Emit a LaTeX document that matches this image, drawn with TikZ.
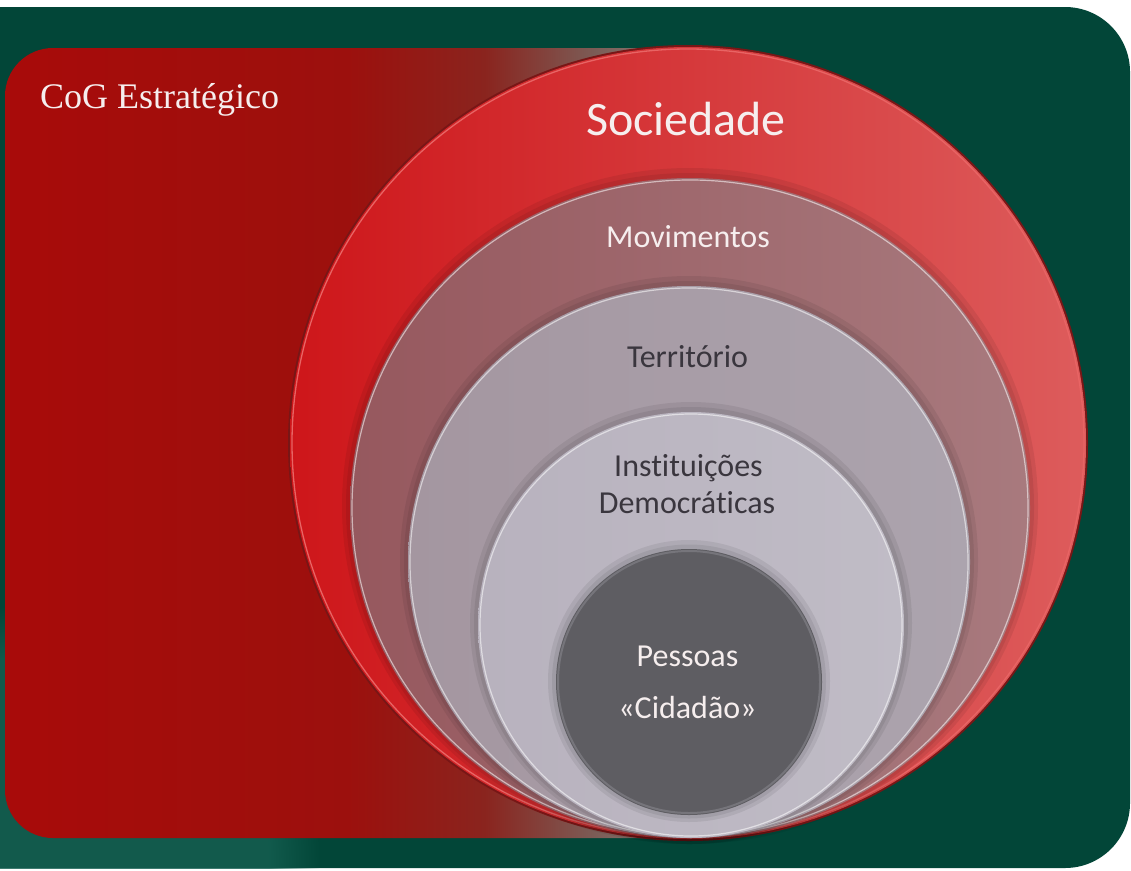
\documentclass[tikz,border=0pt]{standalone}
\usepackage{fontspec}
\setmainfont[Ligatures={NoCommon}]{Carlito}
\newfontfamily\cogfont{Liberation Serif}
\usetikzlibrary{shapes.geometric,fadings}
\definecolor{bggreen}{RGB}{2,70,56}
\definecolor{bgteal}{RGB}{22,96,82}
\definecolor{rA}{RGB}{168,11,10}
\definecolor{rB}{RGB}{156,16,13}
\definecolor{rC}{RGB}{138,36,30}
\definecolor{rD}{RGB}{124,92,86}
\definecolor{rE}{RGB}{136,134,127}
\definecolor{socL}{RGB}{206,22,26}
\definecolor{socR}{RGB}{221,92,92}
\definecolor{socRim}{RGB}{232,100,100}
\definecolor{socOut}{RGB}{120,22,22}
\definecolor{movL}{RGB}{150,88,94}
\definecolor{movR}{RGB}{168,122,126}
\definecolor{terL}{RGB}{164,150,160}
\definecolor{terR}{RGB}{172,164,174}
\definecolor{insL}{RGB}{184,178,190}
\definecolor{insR}{RGB}{192,188,198}
\definecolor{pesF}{RGB}{94,93,98}
\definecolor{pesRim}{RGB}{118,117,123}
\definecolor{darktxt}{RGB}{58,54,62}
\definecolor{lighttxt}{RGB}{246,238,238}
\pgfdeclarehorizontalshading{redfade}{100bp}{color(0bp)=(rA); color(25bp)=(rA); color(50bp)=(rB); color(60bp)=(rC); color(68bp)=(rD); color(75bp)=(rE); color(100bp)=(rE)}
\tikzset{
  rimline/.style={draw=white, draw opacity=0.55, line width=1.2pt},
  softshadow/.style={fill=black, fill opacity=0.07},
  lbl/.style={inner sep=0pt, anchor=base, font=\fontsize{32}{38}\selectfont},
}
\begin{document}
\begin{tikzpicture}[x=1pt,y=-1pt]
\useasboundingbox (0,0) rectangle (1131,870);
% green panel
\fill[bggreen] (-5,7) -- (1065,7) arc[start angle=90,end angle=0,radius=65pt] -- (1130,803) arc[start angle=0,end angle=-90,radius=65pt] -- (-5,868) -- cycle;
\begin{scope}
\clip (-5,7) rectangle (1130,868);
\fill[bgteal, path fading=circle with fuzzy edge 20 percent, fill opacity=0.8] (60,860) circle[radius=260pt];
\end{scope}
% red panel with fade
\shade[shading=redfade] (690,48) -- (53,48) arc[start angle=90,end angle=180,radius=48pt] -- (5,790) arc[start angle=180,end angle=270,radius=48pt] -- (690,838) -- cycle;
% Sociedade
\fill[socOut] (688,443) ellipse[x radius=400pt, y radius=398pt];
\shade[left color=socL, right color=socR] (688,443) ellipse[x radius=398pt, y radius=396pt];
\draw[socRim, line width=1.3pt] (688,443) ellipse[x radius=396pt, y radius=394pt];
% Movimentos
\fill[softshadow] (690,506) ellipse[x radius=348pt, y radius=338pt];
\fill[softshadow] (690,507) ellipse[x radius=344pt, y radius=334pt];
\shade[left color=movL, right color=movR] (690,508) ellipse[x radius=340pt, y radius=330pt];
\draw[rimline] (690,508) ellipse[x radius=338pt, y radius=328pt];
% Territorio
\fill[softshadow] (689,560) ellipse[x radius=289pt, y radius=284pt];
\fill[softshadow] (689,561) ellipse[x radius=285pt, y radius=280pt];
\shade[left color=terL, right color=terR] (689,562) ellipse[x radius=281pt, y radius=276pt];
\draw[rimline] (689,562) ellipse[x radius=279pt, y radius=274pt];
% Instituicoes
\fill[softshadow] (691,623) ellipse[x radius=221pt, y radius=221pt];
\fill[softshadow] (691,624) ellipse[x radius=217pt, y radius=217pt];
\shade[left color=insL, right color=insR] (691,625) ellipse[x radius=213pt, y radius=213pt];
\draw[rimline] (691,625) ellipse[x radius=211pt, y radius=211pt];
% Pessoas
\fill[softshadow] (689,681) circle[radius=141pt];
\fill[softshadow] (689,681.5) circle[radius=137pt];
\fill[pesF] (689,682) circle[radius=133pt];
\draw[pesRim, line width=2pt] (689,682) circle[radius=131pt];
% labels
\node[inner sep=0pt, anchor=base west, text=lighttxt, font=\cogfont\fontsize{36}{43}\selectfont] (cog) at (40,108) {CoG Estratégico};
\node[inner sep=0pt, anchor=base, text=lighttxt, font=\fontsize{48}{58}\selectfont] (soc) at (686,135) {Sociedade};
\node[lbl, text=lighttxt] (mov) at (688,247) {Movimentos};
\node[lbl, text=darktxt] (ter) at (687.5,367) {Território};
\node[lbl, text=darktxt] (ins1) at (688.5,476) {Instituições};
\node[lbl, text=darktxt] (ins2) at (687,513) {Democráticas};
\node[lbl, text=lighttxt] (pes1) at (687.5,666) {Pessoas};
\node[lbl, text=lighttxt] (pes2) at (687.5,718) {«Cidadão»};
\end{tikzpicture}
\end{document}
